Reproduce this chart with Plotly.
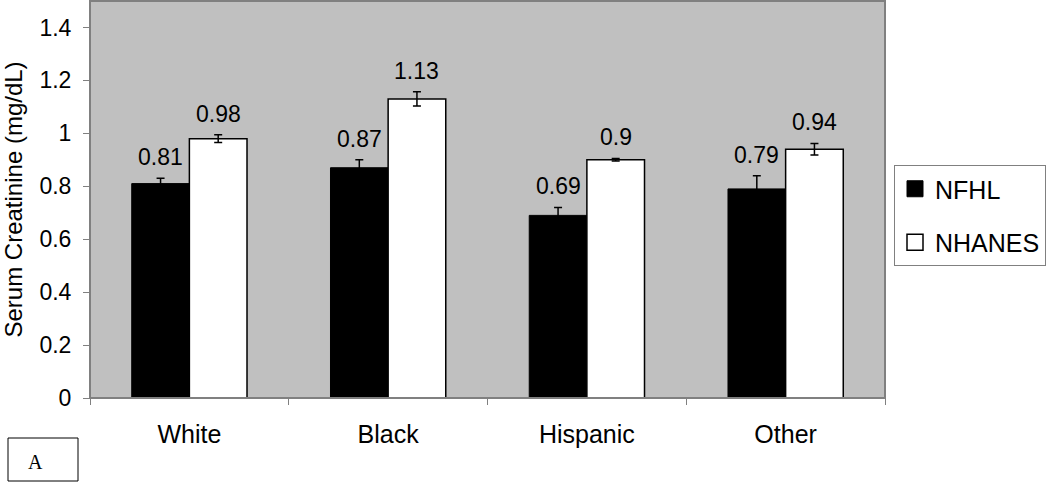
import plotly.graph_objects as go

# Data
groups = ['White', 'Black', 'Hispanic', 'Other']
nfhl = [0.81, 0.87, 0.69, 0.79]
nfhl_err = [0.02, 0.03, 0.03, 0.05]
nhanes = [0.98, 1.13, 0.90, 0.94]
nhanes_err = [0.015, 0.027, 0.005, 0.022]

# Layout helpers (pixel -> paper)
W, H = 1050, 482
L, R, T, B = 90, 165, 1, 84
font_family = 'Liberation Sans, Arial, sans-serif'


def px_x(x):
    return (x - L) / (W - L - R)


def px_y(y):
    return (H - B - y) / (H - T - B)


fig = go.Figure()

fig.add_trace(go.Bar(
    x=groups, y=nfhl, name='NFHL', showlegend=False,
    marker=dict(color='black', line=dict(color='black', width=1)),
    error_y=dict(type='data', array=nfhl_err, color='black', thickness=1.5, width=4)
))
fig.add_trace(go.Bar(
    x=groups, y=nhanes, name='NHANES', showlegend=False,
    marker=dict(color='white', line=dict(color='black', width=1.5)),
    error_y=dict(type='data', array=nhanes_err, color='black', thickness=1.5, width=4)
))

# legend entries with bigger square icons
fig.add_trace(go.Scatter(
    x=[None], y=[None], mode='markers', name='NFHL', legendgroup='a',
    marker=dict(symbol='square', size=16, color='black', line=dict(color='black', width=1))
))
fig.add_trace(go.Scatter(
    x=[None], y=[None], mode='markers', name='NHANES', legendgroup='b',
    marker=dict(symbol='square', size=16, color='white', line=dict(color='black', width=1.5))
))

# value labels above the error bars
bar_px = (W - L - R) / len(groups) * (1 - 0.42) / 2
for vals, errs, shift in [(nfhl, nfhl_err, -bar_px / 2), (nhanes, nhanes_err, bar_px / 2)]:
    for g, v, e in zip(groups, vals, errs):
        fig.add_annotation(x=g, y=v + e, text=f'{v:g}', showarrow=False,
                           xshift=shift, yshift=6, yanchor='bottom',
                           font=dict(size=23, color='black', family=font_family))

# y axis title
fig.add_annotation(xref='paper', yref='paper', x=px_x(13), y=0.5, text='Serum Creatinine (mg/dL)',
                   textangle=-90, showarrow=False, xanchor='center', yanchor='middle',
                   font=dict(size=24, color='black', family=font_family))

# "A" panel box
fig.add_shape(type='rect', xref='paper', yref='paper',
              x0=px_x(8), x1=px_x(78), y0=px_y(481), y1=px_y(438),
              line=dict(color='black', width=1), fillcolor='white')
fig.add_annotation(xref='paper', yref='paper', x=px_x(35), y=px_y(462), text='A',
                   showarrow=False, xanchor='center', yanchor='middle',
                   font=dict(size=20, color='black', family='Liberation Serif, Times New Roman, serif'))

# plot area border
fig.add_shape(type='rect', xref='paper', yref='paper', x0=0, x1=1, y0=0, y1=1,
              line=dict(color='#808080', width=2), layer='above')

fig.update_layout(
    width=W, height=H,
    margin=dict(l=L, r=R, t=T, b=B),
    paper_bgcolor='white',
    plot_bgcolor='#c0c0c0',
    barmode='group',
    bargap=0.42,
    bargroupgap=0,
    font=dict(family=font_family, color='black'),
    legend=dict(
        x=px_x(894), y=px_y(165), xanchor='left', yanchor='top',
        bordercolor='#808080', borderwidth=1, bgcolor='white',
        font=dict(size=25, color='black'),
        traceorder='grouped', tracegroupgap=18,
        itemsizing='trace',
    ),
    xaxis=dict(
        showgrid=False, showline=True, linecolor='#808080', linewidth=1,
        ticks='outside', tickson='boundaries', ticklen=6, tickcolor='#808080',
        tickfont=dict(size=25), ticklabelstandoff=14,
    ),
    yaxis=dict(
        range=[0, 1.5], dtick=0.2, showgrid=False, zeroline=False,
        showline=True, linecolor='#808080', linewidth=1,
        ticks='outside', ticklen=6, tickcolor='#808080',
        tickfont=dict(size=23), ticklabelstandoff=7,
    ),
)

fig.write_html('out.html', config={'displayModeBar': False},
               post_script="document.body.style.margin='0';")
